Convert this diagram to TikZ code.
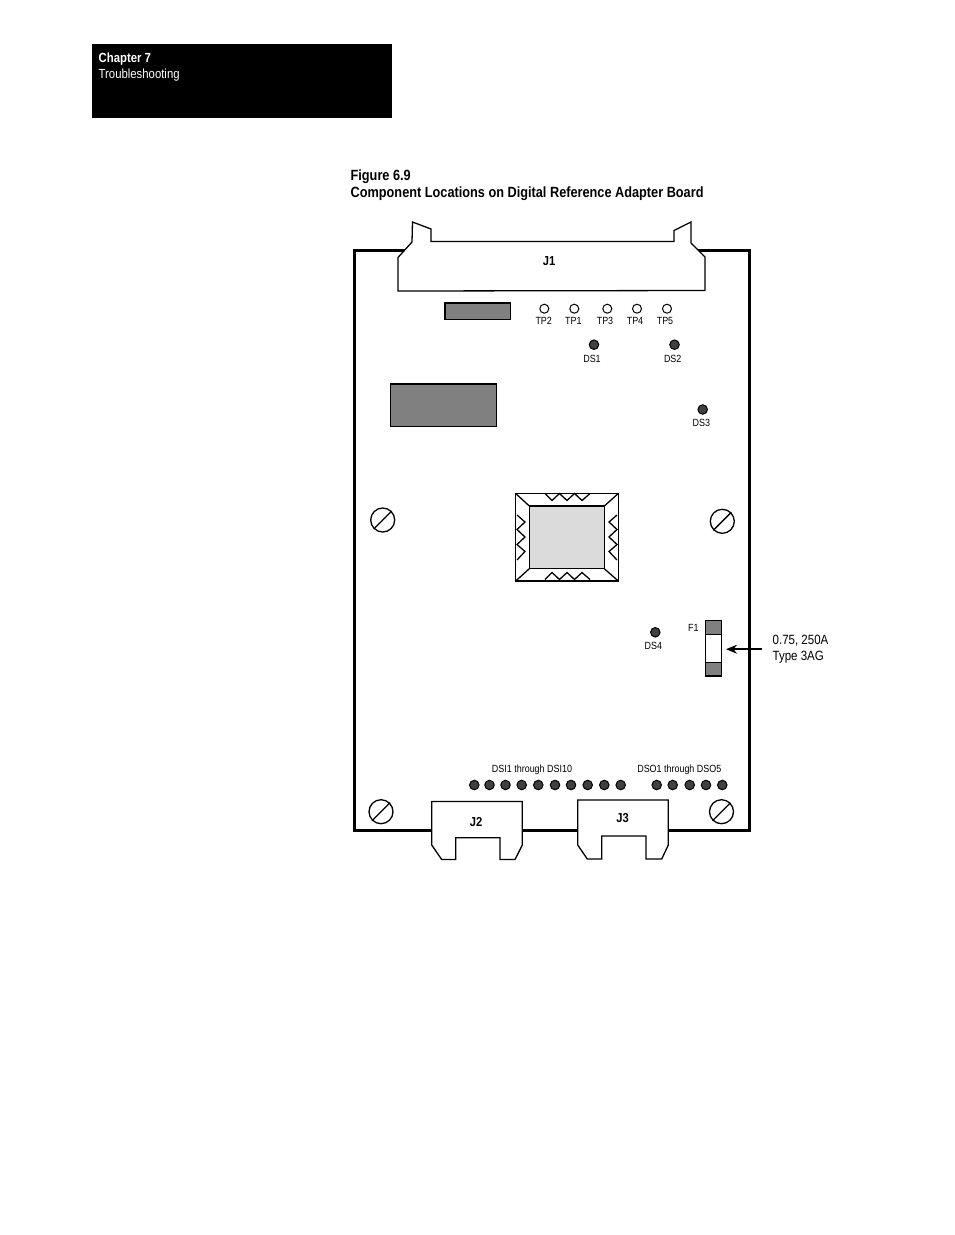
\documentclass[tikz,border=0pt]{standalone}
\usepackage{fontspec}
\setmainfont[FakeStretch=0.86]{Liberation Sans}
\usetikzlibrary{arrows.meta,positioning}

\begin{document}
\begin{tikzpicture}[x=1pt,y=-1pt,
	line width=1.3pt,
	ledlamp/.style={circle,draw=black,fill=black!75,line width=1pt,inner sep=0pt,minimum size=9.5pt},
	testpoint/.style={circle,draw=black,fill=white,line width=1pt,inner sep=0pt,minimum size=9pt},
	tinylabel/.style={inner sep=0pt,font=\fontsize{10.4}{12}\selectfont},
	plugname/.style={inner sep=0pt,font=\fontsize{13}{15}\selectfont\bfseries},
	headtext/.style={anchor=west,inner sep=0pt,font=\fontsize{13.2}{16}\selectfont},
	screwhead/.style={circle,draw=black,line width=1.3pt,inner sep=0pt,minimum size=24pt},
	grayblock/.style={draw=black,fill=black!50,line width=1.5pt},
	]
\useasboundingbox (0,0) rectangle (954,1235);

%header
\fill[black] (92,44) rectangle (392,118);
\node[headtext,text=white] (chapter) at (98,59.5) {\bfseries Chapter 7};
\node[headtext,text=white] (section) at (98,75.5) {Troubleshooting};

\node[headtext,font=\fontsize{14.8}{17}\selectfont] (figno) at (350,177) {\bfseries Figure 6.9};
\node[headtext,font=\fontsize{14.8}{17}\selectfont] (figtitle) at (350,194) {\bfseries Component Locations on Digital Reference Adapter Board};

%board
\draw[line width=3pt,line join=miter] (354,830) -- (354,250) -- (749,250) -- (749,830) -- cycle;

%J1 connector
\draw[fill=white] (398,291) -- ++(0,-33.5) -- ++(14,-15.5) -- ++(0.5,-20) -- ++(18.5,7)
-- ++(0,12.5) -- ++(243,0) -- ++(0,-11) -- ++(17,-8.5) -- ++(0,21) -- ++(14,14)
-- ++(0,33.5) -- cycle;
\node[plugname] (J1) at (549,261.5) {J1};

%blocks
\draw[grayblock] (445,303) rectangle (510.5,319.5);
\draw[grayblock] (390.5,384) rectangle (496.5,426.5);

%test points
\node[testpoint] (TP2) at (544.3,308.7) {};
\node[testpoint] (TP1) at (574.3,308.7) {};
\node[testpoint] (TP3) at (607.3,308.7) {};
\node[testpoint] (TP4) at (637,308.7) {};
\node[testpoint] (TP5) at (667,308.7) {};
\node[tinylabel] (TP2text) at (543.7,321) {TP2};
\node[tinylabel] (TP1text) at (573.3,321) {TP1};
\node[tinylabel] (TP3text) at (605,321) {TP3};
\node[tinylabel] (TP4text) at (635,321) {TP4};
\node[tinylabel] (TP5text) at (665,321) {TP5};

%leds
\node[ledlamp] (DS1) at (594,344.7) {};
\node[ledlamp] (DS2) at (674.5,344.7) {};
\node[ledlamp] (DS3) at (702.7,409.5) {};
\node[ledlamp] (DS4) at (655.3,632.3) {};
\node[tinylabel] (DS1text) at (592,358.5) {DS1};
\node[tinylabel] (DS2text) at (672.7,358.5) {DS2};
\node[tinylabel] (DS3text) at (701.3,422.8) {DS3};
\node[tinylabel] (DS4text) at (653.3,646.2) {DS4};

%chip
\draw[line width=1.5pt,fill=white] (515.7,493.5) rectangle (618.3,581);
\draw (515.7,493.5) -- (529.3,506);
\draw (618.3,493.5) -- (604.3,506);
\draw (515.7,581) -- (529.3,568.7);
\draw (618.3,581) -- (604.3,568.7);
\draw[line width=1.5pt,fill=black!14] (529.3,506) rectangle (604.3,568.7);
\draw (545,493.5) -- ++(7,7) -- ++(7.5,-7) -- ++(7.5,7) -- ++(7.5,-7) -- ++(7.5,7) -- ++(8,-7);% top teeth
\draw (545,579.5) -- ++(7,-7) -- ++(7.5,7) -- ++(7.5,-7) -- ++(7.5,7) -- ++(7.5,-7) -- ++(8,7);% bottom teeth
\draw (517,515) -- ++(8,7) -- ++(-8,7.5) -- ++(8,7.5) -- ++(-8,7.5) -- ++(8,7) -- ++(-8,8.5);% left teeth
\draw (617,515) -- ++(-8,7) -- ++(8,7.5) -- ++(-8,7.5) -- ++(8,7.5) -- ++(-8,7) -- ++(8,8.5);% right teeth

%screws
\node[screwhead] (screwA) at (382.7,520) {};
\node[screwhead] (screwB) at (722.3,521.3) {};
\node[screwhead] (screwC) at (381,811.7) {};
\node[screwhead] (screwD) at (721.5,811.7) {};
\draw (screwA.south west) -- (screwA.north east);
\draw (screwB.south west) -- (screwB.north east);
\draw (screwC.south west) -- (screwC.north east);
\draw (screwD.south west) -- (screwD.north east);

%fuse
\node[draw=black,fill=white,line width=1.5pt,inner sep=0pt,minimum width=15.6pt,minimum height=55.3pt] (F1) at (713.5,648.3) {};
\draw[grayblock] (705.7,620.7) rectangle (721.3,634.3);
\draw[grayblock] (705.7,662.3) rectangle (721.3,676);
\node[tinylabel] (F1text) at (693.3,627.8) {F1};
\node[anchor=west,align=left,inner sep=0pt,font=\fontsize{13.4}{15.5}\selectfont] (fuserating) at (772,649.2) {0.75, 250A\\Type 3AG};
\draw[-{Stealth[length=11pt,width=9pt]},line width=1.5pt,shorten <=10pt,shorten >=4pt] (fuserating.west) -- (F1.east |- fuserating.west);

%input and output leds
\node[tinylabel] (DSItext) at (532,769.5) {DSI1 through DSI10};
\node[tinylabel] (DSOtext) at (679.3,769.5) {DSO1 through DSO5};
\node[ledlamp] (DSI1) at (474.3,785) {};
\node[ledlamp] (DSI2) at (489.5,785) {};
\node[ledlamp] (DSI3) at (505.5,785) {};
\node[ledlamp] (DSI4) at (521.7,785) {};
\node[ledlamp] (DSI5) at (538.3,785) {};
\node[ledlamp] (DSI6) at (555,785) {};
\node[ledlamp] (DSI7) at (571,785) {};
\node[ledlamp] (DSI8) at (587.7,785) {};
\node[ledlamp] (DSI9) at (604.3,785) {};
\node[ledlamp] (DSI10) at (620.7,785) {};
\node[ledlamp] (DSO1) at (656.7,785) {};
\node[ledlamp] (DSO2) at (672.7,785) {};
\node[ledlamp] (DSO3) at (689.7,785) {};
\node[ledlamp] (DSO4) at (706,785) {};
\node[ledlamp] (DSO5) at (722.3,785) {};

%J2 and J3 connectors
\draw[fill=white] (431.7,845) -- ++(0,-43.5) -- ++(90.6,0) -- ++(0,43.5) -- ++(-7.3,14.5) -- ++(-15,0)
-- ++(0,-21.8) -- ++(-44.3,0) -- ++(0,21.8) -- ++(-14,0) -- cycle;
\node[plugname] (J2) at (476,822.3) {J2};
\draw[fill=white] (577.7,845) -- ++(0,-45) -- ++(90.6,0) -- ++(0,45) -- ++(-6.6,14) -- ++(-15.7,0)
-- ++(0,-23) -- ++(-44.3,0) -- ++(0,23) -- ++(-14.4,0) -- cycle;
\node[plugname] (J3) at (622.7,818.3) {J3};

\end{tikzpicture}
\end{document}
